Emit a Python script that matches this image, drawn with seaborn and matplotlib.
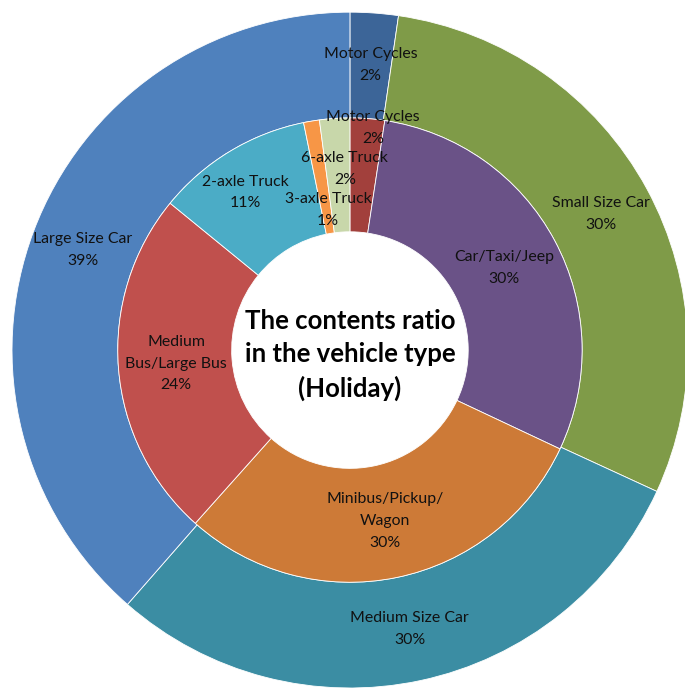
import numpy as np
import matplotlib
matplotlib.use("Agg")
import matplotlib.pyplot as plt
import seaborn as sns

# outer ring: vehicle size class (%)
outer_labels = ["Motor Cycles", "Small Size Car", "Medium Size Car", "Large Size Car"]
outer_values = [2.3, 29.6, 29.6, 38.6]
outer_colors = ["#3C6598", "#7F9B48", "#3B8DA3", "#4F81BD"]

# inner ring: vehicle type (%)
inner_labels = ["Motor Cycles", "Car/Taxi/Jeep", "Minibus/Pickup/\nWagon",
                "Medium\nBus/Large Bus", "2-axle Truck", "3-axle Truck", "6-axle Truck"]
inner_values = [2.4, 29.6, 29.6, 24.3, 10.9, 1.1, 2.1]
inner_colors = ["#A2403C", "#6A5287", "#CD7A37", "#C0504D", "#4BACC6", "#F79646", "#C8D7AA"]

title = "The contents ratio\nin the vehicle type\n(Holiday)"

sns.set_style("white")
plt.rcParams["font.family"] = ["Lato", "DejaVu Sans"]

fig = plt.figure(figsize=(6.85, 6.88), dpi=100)
ax = fig.add_axes([0, 0, 1, 1])

R_OUT = 1.0
R_MID = 0.687
R_IN = 0.35

w_out, _ = ax.pie(outer_values, radius=R_OUT, colors=outer_colors, startangle=90,
                  counterclock=False,
                  wedgeprops=dict(width=R_OUT - R_MID, edgecolor="white", linewidth=0.6))
w_in, _ = ax.pie(inner_values, radius=R_MID, colors=inner_colors, startangle=90,
                 counterclock=False,
                 wedgeprops=dict(width=R_MID - R_IN, edgecolor="white", linewidth=0.6))


def put_labels(wedges, labels, values, radius, overrides):
    for i, (w, lab, v) in enumerate(zip(wedges, labels, values)):
        ang = (w.theta1 + w.theta2) / 2
        r = radius
        if i in overrides:
            r, dang = overrides[i]
            ang += dang
        x = r * np.cos(np.radians(ang))
        y = r * np.sin(np.radians(ang))
        ax.text(x, y, f"{lab}\n{round(v):.0f}%", ha="center", va="center",
                fontsize=11.4, color="#111111", linespacing=1.7)


put_labels(w_out, outer_labels, outer_values, 0.845, {})
# small inner slices are pushed around so the labels do not pile up
put_labels(w_in, inner_labels, inner_values, 0.516,
           {0: (0.66, -1.6), 4: (0.56, 2.5), 5: (0.42, -0.6), 6: (0.537, -2.2)})

ax.text(0, -0.015, title, ha="center", va="center", fontsize=18.5,
        fontweight="bold", color="black", linespacing=1.45)

ax.set_xlim(-1.035, 0.991)
ax.set_ylim(-1.0, 1.036)
ax.set_aspect("equal")
ax.axis("off")

fig.savefig("out.png", dpi=100)
